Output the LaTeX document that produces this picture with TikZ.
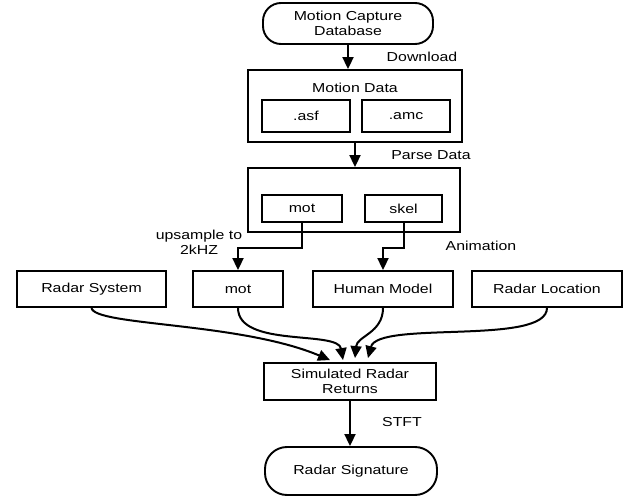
\documentclass[tikz,border=0pt]{standalone}
\usepackage{fontspec}
\setmainfont{Liberation Sans}[FakeStretch=1.22]
\usetikzlibrary{arrows.meta,calc}
\begin{document}
\begin{tikzpicture}[x=1pt,y=-1pt,
  every node/.style={font=\fontsize{13}{15}\selectfont, align=center, inner sep=0pt},
  box/.style={draw, line width=1.9pt, rectangle},
  term/.style={draw, line width=1.9pt, rounded corners=18pt},
  arr/.style={line width=2pt, -{Triangle[length=12pt,width=11pt]}},
  ln/.style={line width=2pt}]
\useasboundingbox (0,0) rectangle (627,497);
\node[term, minimum width=170pt, minimum height=41pt] (db) at (348,23.5) {Motion Capture\\Database};
\node[box, minimum width=214pt, minimum height=72pt] (md) at (355,106) {};
\node (mdt) at (355,88) {Motion Data};
\node[box, minimum width=88pt, minimum height=32pt] (asf) at (306,116) {.asf};
\node[box, minimum width=88pt, minimum height=32pt] (amc) at (406,116) {.amc};
\node[box, minimum width=212pt, minimum height=64pt] (parse) at (354,200) {};
\node[box, minimum width=80pt, minimum height=27pt] (pmot) at (302,208.5) {mot};
\node[box, minimum width=77pt, minimum height=27pt] (skel) at (403.5,208.5) {skel};
\node[box, minimum width=149pt, minimum height=36pt] (rs) at (91.5,289) {Radar System};
\node[box, minimum width=90pt, minimum height=36pt] (mot) at (238,289) {mot};
\node[box, minimum width=140pt, minimum height=36pt] (hm) at (383,289) {Human Model};
\node[box, minimum width=150pt, minimum height=36pt] (rl) at (547,289) {Radar Location};
\node[box, minimum width=172pt, minimum height=37pt] (sim) at (350,381.5) {Simulated Radar\\Returns};
\node[term, rounded corners=22pt, minimum width=172pt, minimum height=48pt] (sig) at (351,471) {Radar Signature};
% labels
\node (ldl) at (422,57) {Download};
\node (lpd) at (431,155) {Parse Data};
\node (lup) at (199,242) {upsample to\\2kHZ};
\node (lan) at (481,246) {Animation};
\node (lst) at (402,422) {STFT};
% connectors
\draw[arr] (db.south) -- (db.south |- md.north);
\draw[arr] (md.south) -- (md.south |- parse.north);
\draw[arr] (pmot.south) -- ++(0,25) -| (mot.north);
\draw[arr] (skel.south) -- ++(0,25) -| (hm.north);
\coordinate (t1) at ($(sim.north)+(-20,-2)$);
\coordinate (t2) at ($(sim.north)+(-7,-2)$);
\coordinate (t3) at ($(sim.north)+(5,-4)$);
\coordinate (t4) at ($(sim.north)+(18,-4)$);
\draw[arr] (rs.south) .. controls ++(3,18) and ($(t1)+(-90,-38)$) .. (t1);
\draw[arr] (mot.south) .. controls ++(0,40) and ($(t2)+(-5,-30)$) .. (t2);
\draw[arr] (hm.south) .. controls ++(0,25) and ($(t3)+(2,-22)$) .. (t3);
\draw[arr] (rl.south) .. controls ++(0,38) and ($(t4)+(10,-38)$) .. (t4);
\draw[arr] (sim.south) -- (sim.south |- sig.north);
\end{tikzpicture}
\end{document}
